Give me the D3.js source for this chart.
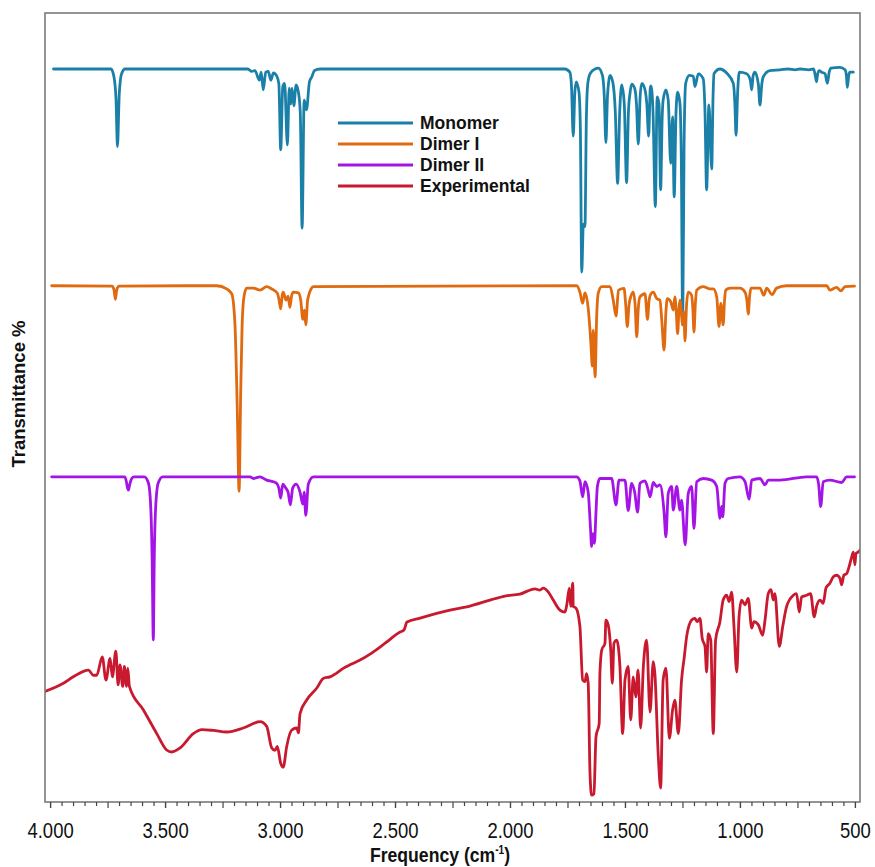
<!DOCTYPE html>
<html>
<head>
<meta charset="utf-8">
<script src="https://cdn.jsdelivr.net/npm/d3@7"></script>
<style>
  html, body { margin: 0; padding: 0; background: #ffffff; }
  svg { display: block; }
</style>
</head>
<body>
<svg id="chart" width="875" height="867"></svg>
<script>
// IR spectra: wavenumber (cm-1) and offset transmittance (stacked display units)
const monomer = [
  [3985,91.4],[3735,91.4],[3722,90.4],[3713,87.5],[3707,81.7],[3699,88.3],[3689,90.8],[3674,91.4],
  [3140,91.4],[3123,91.1],[3109,91.2],[3090,90.0],[3082,91.0],[3073,88.8],[3062,91.0],[3051,91.1],
  [3040,90.0],[3029,90.9],[3014,90.5],[3005,89.5],[2997,81.3],[2988,89.2],[2980,89.6],[2968,81.9],
  [2960,89.0],[2953,87.0],[2948,89.0],[2940,86.8],[2930,89.4],[2920,88.5],[2912,86.0],[2904,71.5],
  [2895,87.5],[2885,86.3],[2872,89.8],[2862,90.4],[2850,91.2],[2826,91.4],
  [1761,91.4],[1740,91.0],[1733,89.5],[1725,83.0],[1718,88.5],[1712,89.8],[1700,88.5],[1694,84.0],
  [1688,66.0],[1681,72.0],[1674,71.7],[1668,85.0],[1662,89.5],[1652,90.8],[1630,91.4],[1616,91.5],
  [1598,90.6],[1590,88.0],[1583,82.2],[1576,88.0],[1570,90.0],[1565,90.6],[1552,89.6],[1542,86.0],
  [1532,77.1],[1523,86.0],[1514,89.4],[1503,87.0],[1493,77.2],[1485,86.0],[1478,88.4],[1471,89.5],
  [1457,88.9],[1450,87.0],[1442,82.0],[1434,88.0],[1427,89.6],[1413,88.8],[1405,87.0],[1397,83.0],
  [1390,89.0],[1387,89.3],[1378,86.0],[1368,74.2],[1360,87.9],[1352,87.0],[1345,76.3],[1338,85.5],
  [1334,87.5],[1322,88.8],[1312,87.5],[1301,79.6],[1293,85.4],[1286,75.4],[1278,86.0],[1271,88.5],
  [1261,87.1],[1255,80.0],[1249,59.4],[1243,82.0],[1236,89.6],[1220,90.6],[1203,90.5],[1196,89.2],
  [1181,90.8],[1160,90.2],[1152,86.0],[1145,76.3],[1135,86.9],[1123,78.9],[1117,88.0],[1113,90.8],
  [1087,91.4],[1058,90.9],[1029,89.6],[1022,87.0],[1017,83.1],[1010,88.5],[1003,91.0],[971,90.8],
  [955,90.0],[949,88.8],[943,90.5],[935,91.0],[920,89.5],[913,86.9],[905,89.5],[899,90.4],
  [870,91.2],[826,91.3],[790,91.4],[760,91.3],[739,91.4],[700,91.3],[680,91.4],[672,90.5],
  [667,89.8],[662,90.8],[655,91.2],[645,91.0],[630,90.8],[620,89.6],[612,91.0],[605,91.5],
  [565,91.6],[543,91.3],[537,90.5],[533,89.1],[527,90.6],[522,91.0],[507,91.0]
];

const dimerI = [
  [3993,64.3],[3730,64.25],[3722,63.8],[3716,62.6],[3710,63.8],[3700,64.25],[3275,64.3],[3232,63.9],
  [3210,63.3],[3196,59.5],[3186,49.0],[3178,38.6],[3171,50.9],[3165,59.2],[3157,62.9],[3145,64.0],
  [3116,64.0],[3087,63.75],[3058,64.2],[3036,63.9],[3012,63.4],[3004,62.5],[2997,61.4],[2990,63.2],
  [2986,63.5],[2974,62.5],[2965,63.0],[2957,61.6],[2950,63.0],[2942,63.5],[2920,63.4],[2910,62.5],
  [2901,60.1],[2894,61.25],[2888,59.4],[2880,62.5],[2877,62.9],[2865,63.9],[2855,64.2],
  [1710,64.3],[1696,63.5],[1684,62.1],[1679,62.8],[1674,63.4],[1660,61.5],[1648,57.0],[1642,54.25],
  [1638,58.75],[1630,52.9],[1623,60.5],[1616,63.4],[1601,64.2],[1565,64.2],[1551,62.5],[1539,60.5],
  [1528,63.75],[1504,63.96],[1497,62.0],[1490,59.2],[1482,62.0],[1475,62.9],[1464,63.5],[1456,62.0],
  [1449,57.9],[1442,61.5],[1435,62.9],[1413,63.3],[1402,60.1],[1395,62.5],[1387,63.3],[1377,63.5],
  [1362,62.7],[1348,62.5],[1340,60.0],[1330,56.25],[1322,61.0],[1316,62.7],[1301,62.3],[1290,61.25],
  [1283,62.9],[1277,61.0],[1271,58.3],[1265,61.5],[1261,62.5],[1249,59.4],[1244,61.0],[1239,57.4],
  [1232,62.0],[1225,63.5],[1210,63.1],[1205,61.5],[1200,58.5],[1194,62.0],[1188,63.75],[1160,64.2],
  [1130,63.9],[1116,63.9],[1101,62.9],[1091,59.2],[1083,62.1],[1073,59.4],[1067,62.5],[1062,63.75],
  [1043,64.0],[1000,64.0],[978,63.5],[970,62.5],[964,60.75],[958,63.0],[952,64.0],[913,64.0],
  [896,63.1],[884,64.0],[860,63.2],[841,64.0],[797,64.3],[623,64.3],[609,63.75],[580,64.1],
  [561,63.66],[543,64.2],[502,64.25]
];

const dimerII = [
  [3993,40.4],[3675,40.4],[3668,39.8],[3663,39.0],[3659,38.75],[3654,39.4],[3645,40.2],[3635,40.4],
  [3590,40.4],[3572,39.6],[3562,36.5],[3556,30.0],[3551,20.0],[3547,30.0],[3541,36.5],[3530,39.6],
  [3510,40.4],[3130,40.4],[3116,40.2],[3087,40.4],[3058,40.0],[3029,39.8],[3015,39.6],[3005,39.0],
  [2997,37.75],[2988,39.5],[2975,39.0],[2965,38.5],[2955,36.9],[2945,39.0],[2930,39.5],[2913,38.5],
  [2901,37.0],[2895,38.5],[2888,35.6],[2877,39.5],[2855,40.4],
  [1710,40.4],[1696,39.9],[1684,37.9],[1674,39.8],[1660,38.5],[1650,34.0],[1645,31.7],[1639,33.3],
  [1633,32.1],[1626,36.0],[1620,39.2],[1609,40.2],[1558,40.2],[1539,36.9],[1526,40.0],[1500,40.0],
  [1486,36.2],[1471,39.6],[1458,38.5],[1445,36.0],[1435,39.6],[1413,39.9],[1399,38.75],[1391,37.9],
  [1377,39.7],[1362,39.2],[1348,39.4],[1330,36.0],[1322,32.9],[1312,38.3],[1297,39.2],[1290,36.25],
  [1275,39.2],[1261,36.25],[1254,37.5],[1238,31.9],[1225,38.3],[1210,39.2],[1200,33.96],[1188,39.8],
  [1160,40.2],[1123,40.0],[1101,39.2],[1087,35.2],[1080,36.7],[1075,35.4],[1065,39.6],[1051,40.2],
  [1000,40.4],[978,39.8],[960,37.6],[949,40.0],[913,40.2],[891,39.4],[877,40.0],[826,40.0],
  [710,40.4],[667,40.4],[658,39.5],[649,36.7],[638,39.8],[609,40.0],[558,39.7],[536,40.4],[502,40.4]
];

const experimental = [
  [4020,13.6],[3942,14.6],[3899,15.4],[3833,16.25],[3812,15.6],[3797,15.6],[3773,17.9],[3757,15.0],
  [3739,17.7],[3729,15.4],[3714,18.6],[3704,14.4],[3696,16.9],[3684,14.2],[3677,16.7],[3667,14.2],
  [3662,16.5],[3655,14.2],[3594,11.25],[3536,8.3],[3493,6.25],[3471,6.0],[3435,6.5],[3377,8.3],
  [3340,8.8],[3290,8.7],[3232,8.5],[3160,9.0],[3087,9.8],[3058,9.2],[3036,6.5],[3022,6.2],
  [3012,6.7],[2997,4.6],[2986,4.1],[2971,6.7],[2949,8.75],[2927,9.0],[2920,8.4],[2913,10.8],
  [2884,12.5],[2840,14.0],[2812,15.2],[2783,15.4],[2717,16.6],[2696,16.9],[2652,17.5],[2600,18.4],
  [2543,19.6],[2478,21.0],[2461,21.25],[2448,22.25],[2391,22.75],[2261,23.75],[2174,24.25],
  [2087,25.0],[2022,25.5],[1957,25.75],[1891,26.4],[1870,26.25],[1855,26.5],[1833,26.0],[1812,25.0],
  [1783,23.75],[1761,23.5],[1753,24.4],[1742,26.5],[1736,24.2],[1727,27.1],[1725,24.2],[1713,24.0],
  [1696,21.7],[1684,15.0],[1674,14.8],[1667,15.8],[1660,14.6],[1652,3.3],[1645,0.6],[1635,0.8],
  [1626,7.9],[1612,9.6],[1609,15.8],[1601,18.75],[1587,19.6],[1583,22.5],[1573,21.9],[1562,18.75],
  [1555,14.6],[1548,19.6],[1536,20.0],[1522,16.7],[1510,8.3],[1500,15.0],[1486,16.7],[1475,10.0],
  [1464,15.4],[1453,12.9],[1443,16.25],[1432,9.0],[1420,16.7],[1406,20.0],[1391,11.0],[1377,17.3],
  [1370,15.8],[1355,5.4],[1345,1.5],[1334,15.0],[1322,16.5],[1307,7.7],[1293,11.25],[1283,12.5],
  [1268,8.3],[1254,15.0],[1242,17.9],[1232,20.4],[1210,22.5],[1196,22.7],[1186,22.3],[1174,22.7],
  [1164,20.2],[1152,19.2],[1145,16.0],[1138,20.8],[1127,20.0],[1116,8.3],[1106,20.0],[1087,22.3],
  [1073,25.0],[1058,25.6],[1047,24.8],[1036,26.0],[1026,21.7],[1014,16.0],[1004,22.9],[993,25.0],
  [978,24.4],[964,25.2],[949,21.5],[939,22.3],[920,21.9],[901,20.6],[891,22.5],[877,25.8],
  [865,26.3],[855,25.0],[848,25.8],[829,19.2],[814,21.7],[797,24.2],[768,25.6],[754,25.8],
  [742,23.5],[732,25.4],[710,25.6],[693,25.8],[677,22.9],[667,24.2],[652,25.0],[638,24.6],
  [626,26.5],[609,27.1],[594,27.9],[580,28.1],[565,27.7],[558,26.9],[548,28.1],[536,28.3],
  [525,29.2],[514,30.4],[507,31.0],[500,29.4],[496,30.8],[486,31.0],[478,31.25]
];

const seriesNames = ["Monomer", "Dimer I", "Dimer II", "Experimental"];
const seriesData = [monomer, dimerI, dimerII, experimental];
const seriesColors = ["#1b80a8", "#e06a10", "#a514e6", "#c8192f"];

const labeledTicks = [4000, 3500, 3000, 2500, 2000, 1500, 1000, 500];
const xDomain = [4022, 478];
const yDomain = [-0.25, 98.4];

// ---- layout ----
const plot = { left: 45, right: 860, top: 13, bottom: 802 };
const narrowFont = "'Liberation Sans', Arial, sans-serif";

const svg = d3.select("#chart");

const x = d3.scaleLinear().domain(xDomain).range([plot.left, plot.right]);
const y = d3.scaleLinear().domain(yDomain).range([plot.bottom, plot.top]);

const deLocale = d3.formatLocale({ decimal: ",", thousands: ".", grouping: [3], currency: ["", "\u00a0€"] });
const fmt = deLocale.format(",");

// clip for the spectra
svg.append("defs").append("clipPath").attr("id", "plotclip")
  .append("rect")
  .attr("x", plot.left).attr("y", plot.top)
  .attr("width", plot.right - plot.left).attr("height", plot.bottom - plot.top);

// spectra
const line = d3.line()
  .x(d => x(d[0]))
  .y(d => y(d[1]))
  .curve(d3.curveMonotoneX);

const traces = svg.append("g").attr("clip-path", "url(#plotclip)");
seriesData.forEach((data, i) => {
  traces.append("path")
    .datum(data)
    .attr("fill", "none")
    .attr("stroke", seriesColors[i])
    .attr("stroke-width", 2.8)
    .attr("stroke-linejoin", "round")
    .attr("stroke-linecap", "round")
    .attr("d", line);
});

// frame
svg.append("rect")
  .attr("x", plot.left).attr("y", plot.top)
  .attr("width", plot.right - plot.left).attr("height", plot.bottom - plot.top)
  .attr("fill", "none")
  .attr("stroke", "#7a7a7a")
  .attr("stroke-width", 1.6);

// bottom axis: minor ticks every 50, longer ticks every 250, labels every 500
const axisG = svg.append("g").attr("transform", `translate(0,${plot.bottom})`);

const minorTicks = d3.range(500, 4001, 50).filter(v => v % 250 !== 0);
const mediumTicks = d3.range(500, 4001, 250);

axisG.append("g")
  .call(d3.axisBottom(x).tickValues(minorTicks).tickSize(4).tickFormat(""))
  .call(g => g.select(".domain").remove());

axisG.append("g")
  .call(d3.axisBottom(x).tickValues(mediumTicks).tickSize(6).tickFormat(""))
  .call(g => g.select(".domain").remove());

axisG.append("g")
  .call(d3.axisBottom(x).tickValues(labeledTicks).tickSize(6).tickPadding(14).tickFormat(fmt))
  .call(g => g.select(".domain").remove())
  .call(g => g.selectAll("text")
    .attr("fill", "#111")
    .attr("transform", "scale(0.84,1)")
    .style("font-family", narrowFont)
    .style("font-size", "22px"));

axisG.selectAll(".tick line").attr("stroke", "#444").attr("stroke-width", 1.2);

// axis titles
const xTitle = svg.append("text")
  .attr("transform", "translate(440,862) scale(0.84,1)")
  .attr("text-anchor", "middle")
  .attr("fill", "#111")
  .style("font-family", narrowFont)
  .style("font-weight", "bold")
  .style("font-size", "21px");
xTitle.append("tspan").text("Frequency (cm");
xTitle.append("tspan").attr("dy", -8).style("font-size", "12px").text("-1");
xTitle.append("tspan").attr("dy", 8).text(")");

svg.append("text")
  .attr("transform", `translate(25,394) rotate(-90)`)
  .attr("text-anchor", "middle")
  .attr("fill", "#111")
  .style("font-family", "'Liberation Sans', Arial, sans-serif")
  .style("font-weight", "bold")
  .style("font-size", "18.5px")
  .text("Transmittance %");

// legend
const legend = svg.append("g").attr("transform", "translate(338,123)");
seriesNames.forEach((name, i) => {
  const row = legend.append("g").attr("transform", `translate(0,${i * 21})`);
  row.append("line")
    .attr("x1", 0).attr("x2", 75).attr("y1", 0).attr("y2", 0)
    .attr("stroke", seriesColors[i])
    .attr("stroke-width", 3);
  row.append("text")
    .attr("x", 82).attr("y", 0).attr("dy", "0.36em")
    .attr("fill", "#111")
    .style("font-family", "'Liberation Sans', Arial, sans-serif")
    .style("font-weight", "bold")
    .style("font-size", "17.5px")
    .text(name);
});
</script>
</body>
</html>
